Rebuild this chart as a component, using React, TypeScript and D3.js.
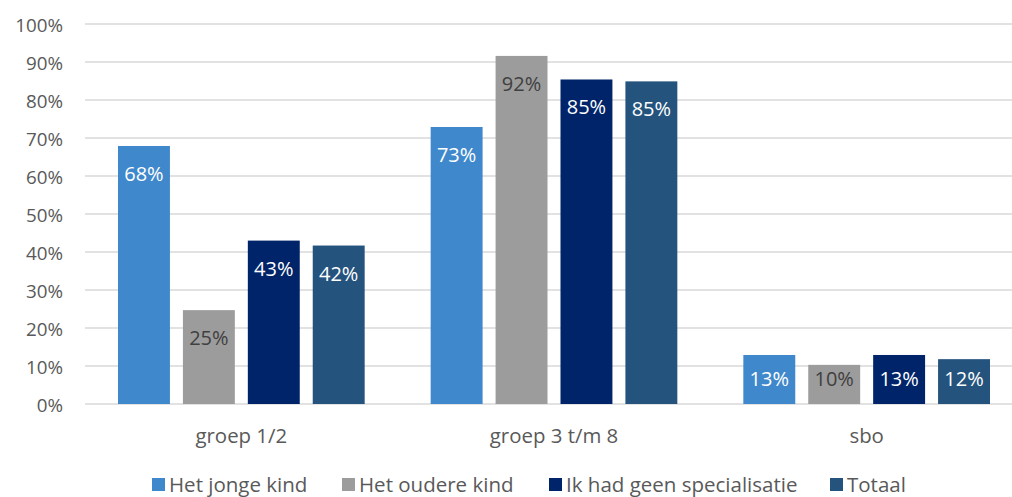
import React, { useEffect, useRef } from 'react';
import * as d3 from 'd3';

const categories = ['groep 1/2', 'groep 3 t/m 8', 'sbo'];
const seriesNames = ['Het jonge kind', 'Het oudere kind', 'Ik had geen specialisatie', 'Totaal'];
const jongeKind = [67.9, 72.9, 12.9];
const oudereKind = [24.7, 91.6, 10.3];
const geenSpecialisatie = [43.0, 85.4, 12.9];
const totaal = [41.7, 84.9, 11.8];
const labels = [
  ['68%', '73%', '13%'],
  ['25%', '92%', '10%'],
  ['43%', '85%', '13%'],
  ['42%', '85%', '12%'],
];
const yTicks = [0, 10, 20, 30, 40, 50, 60, 70, 80, 90, 100];

const colors = ['#3f88cc', '#9c9c9c', '#002469', '#24537e'];
const labelColors = ['#ffffff', '#404040', '#ffffff', '#ffffff'];
const font = '"Open Sans", "Noto Sans", sans-serif';

const App: React.FC = () => {
  const svgRef = useRef<SVGSVGElement>(null);

  useEffect(() => {
    if (!svgRef.current) return;
    const width = 1012;
    const height = 497;
    const svg = d3.select(svgRef.current).attr('width', width).attr('height', height);
    svg.selectAll('*').remove();

    const series = [jongeKind, oudereKind, geenSpecialisatie, totaal];

    const x = d3.scaleBand<string>().domain(categories).range([85, 1023]).paddingInner(0).paddingOuter(0);
    const inner = d3.scaleBand<number>().domain([0, 1, 2, 3]).range([33, x.bandwidth() - 33]).paddingInner(0.2);
    const y = d3.scaleLinear().domain([0, 100]).range([404, 24]);

    // gridlines
    svg.append('g')
      .selectAll('line')
      .data(yTicks)
      .enter()
      .append('line')
      .attr('x1', 85)
      .attr('x2', width)
      .attr('y1', d => y(d))
      .attr('y2', d => y(d))
      .attr('stroke', '#d9d9d9')
      .attr('stroke-width', 1.5);

    // y labels
    svg.append('g')
      .selectAll('text')
      .data(yTicks)
      .enter()
      .append('text')
      .attr('x', 63)
      .attr('y', d => y(d) + 7.5)
      .attr('text-anchor', 'end')
      .attr('font-family', font)
      .attr('font-size', '18.8px')
      .attr('fill', '#595959')
      .text(d => `${d}%`);

    // bars + labels (inside end, kept inside short bars)
    series.forEach((vals, si) => {
      const g = svg.append('g');
      g.selectAll('rect')
        .data(vals)
        .enter()
        .append('rect')
        .attr('x', (d, i) => (x(categories[i]) ?? 0) + (inner(si) ?? 0))
        .attr('y', d => y(d))
        .attr('width', inner.bandwidth())
        .attr('height', d => y(0) - y(d))
        .attr('fill', colors[si]);
      g.selectAll('text')
        .data(vals)
        .enter()
        .append('text')
        .attr('x', (d, i) => (x(categories[i]) ?? 0) + (inner(si) ?? 0) + inner.bandwidth() / 2)
        .attr('y', d => Math.min(y(d) + 35, y(0) - 18))
        .attr('text-anchor', 'middle')
        .attr('font-family', font)
        .attr('font-size', '20px')
        .attr('fill', labelColors[si])
        .text((d, i) => labels[si][i]);
    });

    // x labels
    svg.append('g')
      .selectAll('text')
      .data(categories)
      .enter()
      .append('text')
      .attr('x', d => (x(d) ?? 0) + x.bandwidth() / 2)
      .attr('y', 443)
      .attr('text-anchor', 'middle')
      .attr('font-family', font)
      .attr('font-size', '20.4px')
      .attr('fill', '#595959')
      .text(d => d);

    // legend
    const legendX = [152, 342, 549, 830];
    const legend = svg.append('g')
      .selectAll('g')
      .data(seriesNames)
      .enter()
      .append('g')
      .attr('transform', (d, i) => `translate(${legendX[i]},0)`);
    legend.append('rect')
      .attr('x', 0)
      .attr('y', 478)
      .attr('width', 13)
      .attr('height', 13)
      .attr('fill', (d, i) => colors[i]);
    legend.append('text')
      .attr('x', 17)
      .attr('y', 492)
      .attr('font-family', font)
      .attr('font-size', '20.5px')
      .attr('fill', '#595959')
      .text(d => d);
  }, []);

  return (
    <div style={{ position: 'fixed', left: 0, top: 0, width: 1012, height: 497, overflow: 'hidden', background: '#fff' }}>
      <svg ref={svgRef} style={{ display: 'block' }}></svg>
    </div>
  );
};

export default App;
